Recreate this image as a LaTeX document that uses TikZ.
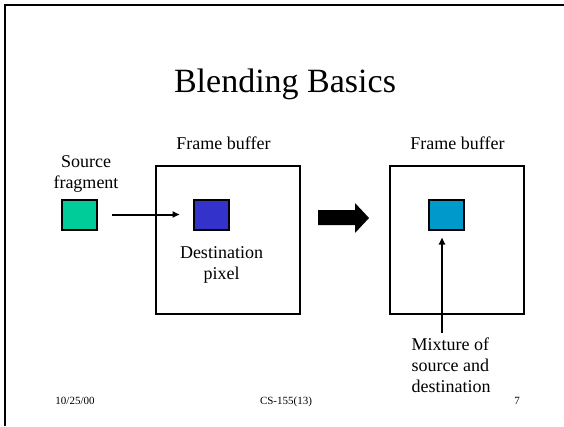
\documentclass[tikz,border=0pt]{standalone}
\usepackage{fontspec}
\setmainfont{Liberation Serif}
\usetikzlibrary{arrows.meta, positioning}

\begin{document}
\begin{tikzpicture}[
    x=1pt, y=-1pt,
    chip/.style={draw=black, line width=2pt, minimum width=35pt, minimum height=30pt, inner sep=0pt},
    bufbox/.style={draw=black, line width=2.5pt, minimum height=148pt, inner sep=0pt},
    lbl/.style={font=\fontsize{18}{21}\selectfont, align=center, inner sep=0pt},
    foot/.style={font=\fontsize{11}{13}\selectfont, inner sep=0pt, anchor=base},
    link/.style={-{Triangle[length=7pt,width=6pt]}, line width=2pt}
]
\useasboundingbox (0,0) rectangle (564,426);

% ===== Slide frame and title =====
\draw[line width=2.5pt] (5,426) -- (5,5) -- (564,5);
\node[font=\fontsize{34}{40}\selectfont, anchor=base, inner sep=0pt] (title) at (285,92) {Blending Basics};

% ===== Left: source and destination =====
\node[bufbox, minimum width=144pt] (buf_L) at (228,240) {};
\node[lbl, anchor=base] (buf_L_lbl) at (223.5,149) {Frame buffer};

\node[chip, fill={rgb,255:red,0;green,204;blue,153}] (src) at (79.5,214.5) {};
\node[lbl, anchor=base] (src_lbl) at (86,188) {Source\\fragment};

\node[chip, fill={rgb,255:red,51;green,51;blue,204}] (dst) at (211,214.5) {};
\node[lbl, anchor=base] (dst_lbl) at (221.5,279) {Destination\\pixel};

\draw[link, shorten <=14pt, shorten >=13pt] (src) -- (dst);

% Big arrow
\fill (318,210) -- (355,210) -- (355,203) -- (369,218) -- (355,233) -- (355,225) -- (318,225) -- cycle;

% ===== Right: blended result =====
\node[bufbox, minimum width=134pt] (buf_R) at (457,240) {};
\node[lbl, anchor=base] (buf_R_lbl) at (457.5,149) {Frame buffer};

\node[chip, fill={rgb,255:red,0;green,153;blue,204}] (mix) at (446,214.5) {};
\coordinate (mix_foot) at (442,333);
\draw[link, shorten >=7pt] (mix_foot) -- (mix_foot |- mix.south);
\node[lbl, align=left, anchor=base west] (mix_lbl) at (411.5,392) {Mixture of\\source and\\destination};

% ===== Footer =====
\node[foot] (date) at (75,404) {10/25/00};
\node[foot] (course) at (286,404) {CS-155(13)};
\node[foot] (page) at (517,404) {7};

\end{tikzpicture}
\end{document}
